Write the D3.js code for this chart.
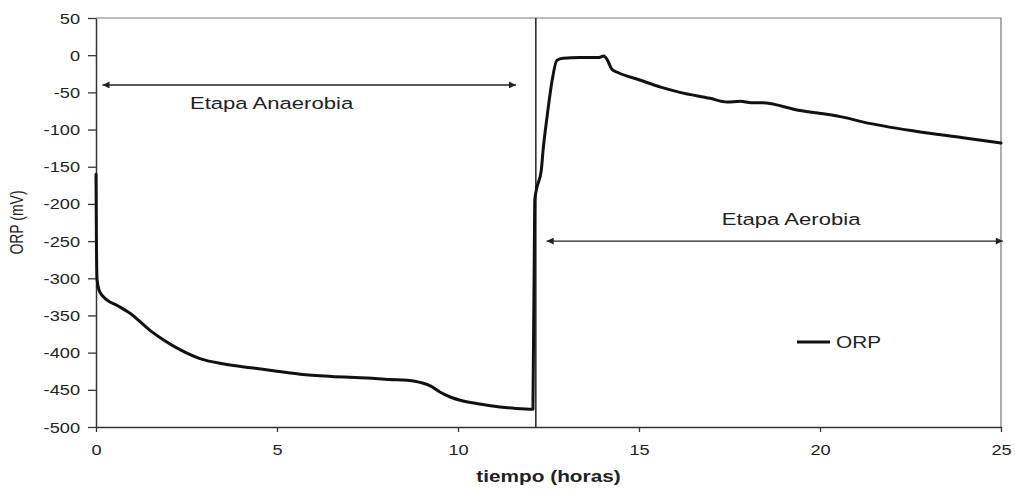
<!DOCTYPE html>
<html>
<head>
<meta charset="utf-8">
<script src="https://cdn.jsdelivr.net/npm/d3@7"></script>
<style>
  html, body { margin: 0; padding: 0; background: #fff; }
  svg { display: block; }
  text { font-family: "Liberation Sans", Arial, sans-serif; fill: #222; }
</style>
</head>
<body>
<svg id="chart" width="1015" height="490"></svg>
<script>
// ORP over the cycle: time in hours, potential in mV
const tiempo = [0, 0.01, 0.03, 0.1, 0.3, 0.6, 0.94, 1.49, 1.9, 2.32, 2.87, 3.5, 4.4, 5.0, 5.64, 6.5, 7.5, 8.12, 8.6, 8.95, 9.25, 9.5, 9.8, 10.06, 10.6, 11.16, 11.6, 12.07,
  12.12, 12.18, 12.3, 12.35, 12.46, 12.6, 12.73, 12.9, 13.37, 13.9, 14.03, 14.12, 14.25, 14.4, 15.0, 15.6, 16.13, 16.96, 17.43, 17.8, 18.1, 18.4, 19.4, 20.6, 21.2, 22.6, 23.95, 25];
const orp = [-160, -240, -302, -318, -329, -337, -347, -370, -384, -396, -408, -415, -421, -425, -429, -432, -434, -436, -437, -440, -445, -453, -460, -464, -469, -473, -475, -476,
  -195, -178, -155, -128, -83, -34, -7, -4, -3, -3, -1, -6, -19, -23, -33, -43, -50, -58, -63, -62, -64, -64, -74, -83, -90, -102, -111, -118];

const xTicks = [0, 5, 10, 15, 20, 25];
const yTicks = [50, 0, -50, -100, -150, -200, -250, -300, -350, -400, -450, -500];
const cambioEtapa = 12.15;   // switch from anaerobic to aerobic stage
const etapas = [
  { nombre: "Etapa Anaerobia", desde: 0.18, hasta: 11.6, nivel: -40, textoT: 4.85, textoV: -72 },
  { nombre: "Etapa Aerobia", desde: 12.45, hasta: 25.05, nivel: -250, textoT: 19.2, textoV: -229 }
];
const serieNombre = "ORP";
const ejeX = "tiempo (horas)";
const ejeY = "ORP (mV)";

const SX = 1.3; // horizontal stretch of the lettering
const svg = d3.select("#chart");
const x = d3.scaleLinear().domain([0, 25]).range([96, 1001]);
const y = d3.scaleLinear().domain([-500, 50]).range([427, 18]);
const etiqueta = d => String(d); // plain hyphen for negatives

// plot frame (top and right edges)
svg.append("path")
  .attr("d", `M${x(0)},${y(50)}H${x(25)}V${y(-500)}`)
  .attr("fill", "none").attr("stroke", "#777").attr("stroke-width", 1.2);

// y axis
const gy = svg.append("g").attr("transform", `translate(${x(0)},0)`)
  .call(d3.axisLeft(y).tickValues(yTicks).tickFormat(etiqueta).tickSize(8).tickPadding(0).tickSizeOuter(0));
gy.select(".domain").attr("stroke", "#333").attr("stroke-width", 1.5);
gy.selectAll(".tick line").attr("stroke", "#333").attr("stroke-width", 1.3);
gy.selectAll(".tick text")
  .attr("x", -16 / SX).attr("dy", "0.36em")
  .attr("transform", `scale(${SX},1)`)
  .style("font-size", "14px").attr("fill", "#222");

// x axis
const gx = svg.append("g").attr("transform", `translate(0,${y(-500)})`)
  .call(d3.axisBottom(x).tickValues(xTicks).tickFormat(etiqueta).tickSize(5).tickPadding(0).tickSizeOuter(0));
gx.select(".domain").attr("stroke", "#333").attr("stroke-width", 1.5);
gx.selectAll(".tick line").attr("stroke", "#333").attr("stroke-width", 1.3);
gx.selectAll(".tick text")
  .attr("y", 28).attr("dy", 0)
  .attr("transform", `scale(${SX},1)`)
  .style("font-size", "14px").attr("fill", "#222");

// axis titles
svg.append("text")
  .attr("transform", `translate(${(x(0) + x(25)) / 2},482) scale(${SX},1)`)
  .attr("text-anchor", "middle").style("font-size", "16px").style("font-weight", "bold")
  .text(ejeX);
svg.append("text")
  .attr("transform", `translate(23,${y(-225)}) rotate(-90) scale(1,${SX})`)
  .attr("text-anchor", "middle").style("font-size", "14px")
  .text(ejeY);

// stage divider
svg.append("line")
  .attr("x1", x(cambioEtapa)).attr("x2", x(cambioEtapa))
  .attr("y1", y(50)).attr("y2", y(-500))
  .attr("stroke", "#222").attr("stroke-width", 1.5);

// arrow markers
const defs = svg.append("defs");
["inicio", "fin"].forEach(id => {
  defs.append("marker").attr("id", "flecha-" + id)
    .attr("viewBox", "0 0 10 10").attr("refX", id === "fin" ? 10 : 0).attr("refY", 5)
    .attr("markerWidth", 9).attr("markerHeight", 7).attr("markerUnits", "userSpaceOnUse")
    .attr("orient", "auto")
    .append("path")
    .attr("d", id === "fin" ? "M0,0L10,5L0,10Z" : "M10,0L0,5L10,10Z")
    .attr("fill", "#222");
});

// stage annotations
etapas.forEach(e => {
  svg.append("line")
    .attr("x1", x(e.desde)).attr("x2", x(e.hasta))
    .attr("y1", y(e.nivel)).attr("y2", y(e.nivel))
    .attr("stroke", "#222").attr("stroke-width", 1.4)
    .attr("marker-start", "url(#flecha-inicio)")
    .attr("marker-end", "url(#flecha-fin)");
  svg.append("text")
    .attr("transform", `translate(${x(e.textoT)},${y(e.textoV)}) scale(${SX},1)`)
    .attr("text-anchor", "middle").style("font-size", "17px")
    .text(e.nombre);
});

// ORP curve
const datos = tiempo.map((t, i) => ({ t, v: orp[i] }));
svg.append("path")
  .datum(datos)
  .attr("fill", "none").attr("stroke", "#111").attr("stroke-width", 3)
  .attr("stroke-linejoin", "round").attr("stroke-linecap", "round")
  .attr("d", d3.line().x(d => x(d.t)).y(d => y(d.v)).curve(d3.curveMonotoneX));

// legend
const lg = svg.append("g").attr("transform", "translate(797,342)");
lg.append("line").attr("x1", 0).attr("x2", 33).attr("y1", 0).attr("y2", 0)
  .attr("stroke", "#111").attr("stroke-width", 3);
lg.append("text").attr("transform", `translate(39,6) scale(${SX},1)`)
  .style("font-size", "16px").text(serieNombre);
</script>
</body>
</html>
